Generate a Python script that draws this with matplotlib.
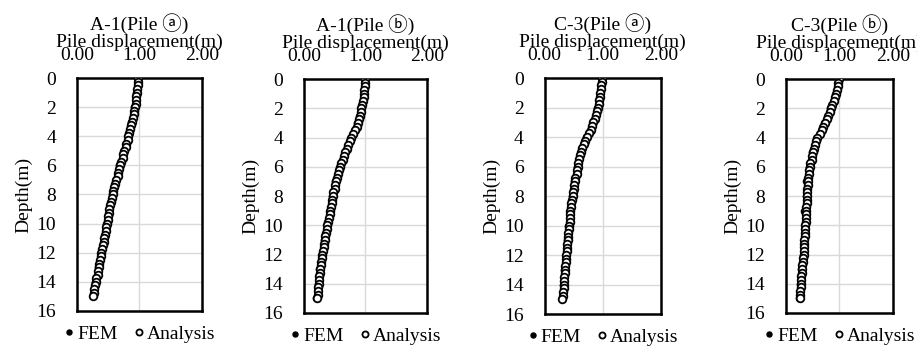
import matplotlib
matplotlib.use('Agg')
from matplotlib import pyplot as plt

plt.rcParams['font.family'] = ['Liberation Serif', 'Noto Sans CJK JP', 'DejaVu Sans']
plt.rcParams['font.size'] = 14

titles = ['A-1(Pile ⓐ)', 'A-1(Pile ⓑ)', 'C-3(Pile ⓐ)', 'C-3(Pile ⓑ)']
x_ticks = [0.0, 1.0, 2.0]
x_ticklabels = ['0.00', '1.00', '2.00']
y_ticks = [0, 2, 4, 6, 8, 10, 12, 14, 16]

# analysis points, every 0.25 m from 0 to 15 m
depth = [0.0, 0.25, 0.5, 0.75, 1.0, 1.25, 1.5, 1.75, 2.0, 2.25, 2.5, 2.75,
         3.0, 3.25, 3.5, 3.75, 4.0, 4.25, 4.5, 4.75, 5.0, 5.25, 5.5, 5.75,
         6.0, 6.25, 6.5, 6.75, 7.0, 7.25, 7.5, 7.75, 8.0, 8.25, 8.5, 8.75,
         9.0, 9.25, 9.5, 9.75, 10.0, 10.25, 10.5, 10.75, 11.0, 11.25, 11.5, 11.75,
         12.0, 12.25, 12.5, 12.75, 13.0, 13.25, 13.5, 13.75, 14.0, 14.25, 14.5, 14.75,
         15.0]

ana_a1a = [0.97, 0.97, 0.97, 0.96, 0.96, 0.95, 0.95, 0.94, 0.93, 0.92, 0.91, 0.89,
           0.88, 0.87, 0.85, 0.84, 0.82, 0.81, 0.79, 0.78, 0.76, 0.74, 0.73, 0.71,
           0.69, 0.68, 0.66, 0.65, 0.63, 0.61, 0.60, 0.58, 0.57, 0.56, 0.55, 0.53,
           0.52, 0.51, 0.50, 0.49, 0.48, 0.47, 0.46, 0.45, 0.44, 0.43, 0.42, 0.40,
           0.39, 0.38, 0.37, 0.36, 0.35, 0.34, 0.33, 0.31, 0.30, 0.29, 0.28, 0.27,
           0.26]
ana_a1b = [0.99, 0.99, 0.99, 0.98, 0.98, 0.97, 0.96, 0.95, 0.93, 0.92, 0.91, 0.89,
           0.88, 0.86, 0.83, 0.80, 0.77, 0.75, 0.72, 0.70, 0.67, 0.65, 0.63, 0.61,
           0.59, 0.57, 0.56, 0.54, 0.52, 0.51, 0.50, 0.48, 0.47, 0.46, 0.45, 0.44,
           0.43, 0.42, 0.40, 0.39, 0.38, 0.37, 0.36, 0.35, 0.34, 0.33, 0.32, 0.31,
           0.30, 0.29, 0.28, 0.27, 0.26, 0.26, 0.25, 0.25, 0.24, 0.23, 0.22, 0.22,
           0.21]
ana_c3a = [0.98, 0.98, 0.97, 0.97, 0.96, 0.95, 0.94, 0.93, 0.92, 0.90, 0.88, 0.86,
           0.84, 0.82, 0.79, 0.76, 0.73, 0.70, 0.68, 0.65, 0.63, 0.61, 0.60, 0.58,
           0.57, 0.56, 0.55, 0.53, 0.52, 0.51, 0.50, 0.49, 0.48, 0.47, 0.46, 0.45,
           0.44, 0.44, 0.43, 0.43, 0.42, 0.42, 0.41, 0.40, 0.40, 0.39, 0.38, 0.38,
           0.37, 0.36, 0.36, 0.35, 0.35, 0.35, 0.34, 0.34, 0.33, 0.33, 0.32, 0.31,
           0.30]
ana_c3b = [0.99, 0.98, 0.97, 0.96, 0.94, 0.92, 0.90, 0.87, 0.84, 0.82, 0.79, 0.77,
           0.74, 0.70, 0.67, 0.63, 0.59, 0.57, 0.55, 0.52, 0.50, 0.49, 0.48, 0.46,
           0.45, 0.44, 0.43, 0.42, 0.41, 0.41, 0.40, 0.40, 0.39, 0.39, 0.39, 0.38,
           0.38, 0.38, 0.37, 0.37, 0.36, 0.36, 0.35, 0.35, 0.34, 0.34, 0.33, 0.33,
           0.33, 0.32, 0.32, 0.31, 0.30, 0.30, 0.29, 0.29, 0.28, 0.28, 0.27, 0.27,
           0.26]

# FEM points, every 1 m
depth_fem = [0, 1, 2, 3, 4, 5, 6, 7, 8, 9, 10, 11, 12, 13, 14, 15]
fem_a1a = [0.97, 0.95, 0.92, 0.87, 0.81, 0.75, 0.68, 0.62, 0.56, 0.51, 0.47, 0.43, 0.38, 0.34, 0.29, 0.25]
fem_a1b = [0.99, 0.97, 0.92, 0.87, 0.76, 0.66, 0.58, 0.51, 0.46, 0.42, 0.37, 0.33, 0.29, 0.25, 0.23, 0.20]
fem_c3a = [0.98, 0.95, 0.90, 0.83, 0.72, 0.62, 0.56, 0.51, 0.47, 0.43, 0.41, 0.39, 0.36, 0.34, 0.32, 0.29]
fem_c3b = [0.99, 0.93, 0.82, 0.72, 0.58, 0.49, 0.44, 0.38, 0.38, 0.34, 0.35, 0.33, 0.32, 0.28, 0.27, 0.25]

analysis = [ana_a1a, ana_a1b, ana_c3a, ana_c3b]
fem = [fem_a1a, fem_a1b, fem_c3a, fem_c3b]

# axes boxes in figure fractions (left, bottom, width, height)
boxes = [[0.084, 0.104, 0.136, 0.671],
         [0.3315, 0.098, 0.134, 0.674],
         [0.594, 0.095, 0.1265, 0.680],
         [0.857, 0.098, 0.1167, 0.674]]

fig = plt.figure(figsize=(9.17, 3.47), dpi=100)

for i in range(4):
    ax = fig.add_axes(boxes[i])
    ax.plot(fem[i], depth_fem, 'o', color='black', markersize=4.5, label='FEM', zorder=2)
    ax.plot(analysis[i], depth, 'o', markerfacecolor='white', markeredgecolor='black',
            markeredgewidth=1.3, markersize=5.5, label='Analysis', zorder=3)
    ax.set_xlim(0, 2)
    ax.set_ylim(16, 0)
    ax.set_xticks(x_ticks)
    ax.set_xticklabels(x_ticklabels)
    ax.set_yticks(y_ticks)
    ax.xaxis.tick_top()
    ax.xaxis.set_label_position('top')
    ax.tick_params(axis='x', length=0, pad=10, labelsize=14)
    ax.tick_params(axis='y', length=0, pad=15, labelsize=14)
    ax.set_xlabel('Pile displacement(m)', fontsize=14, labelpad=0)
    ax.set_ylabel('Depth(m)', fontsize=14, labelpad=3)
    ax.set_title(titles[i], fontsize=14, pad=2)
    ax.grid(True, color='#d9d9d9', linewidth=1)
    ax.set_axisbelow(True)
    for s in ax.spines.values():
        s.set_linewidth(1.8)
        s.set_color('black')
    ax.legend(loc='upper center', bbox_to_anchor=(0.5, -0.02), ncol=2, frameon=False,
              handlelength=0.6, handletextpad=0.1, columnspacing=0.8,
              markerscale=0.8, fontsize=14, borderaxespad=0.1)

fig.savefig('out.png', dpi=100)
